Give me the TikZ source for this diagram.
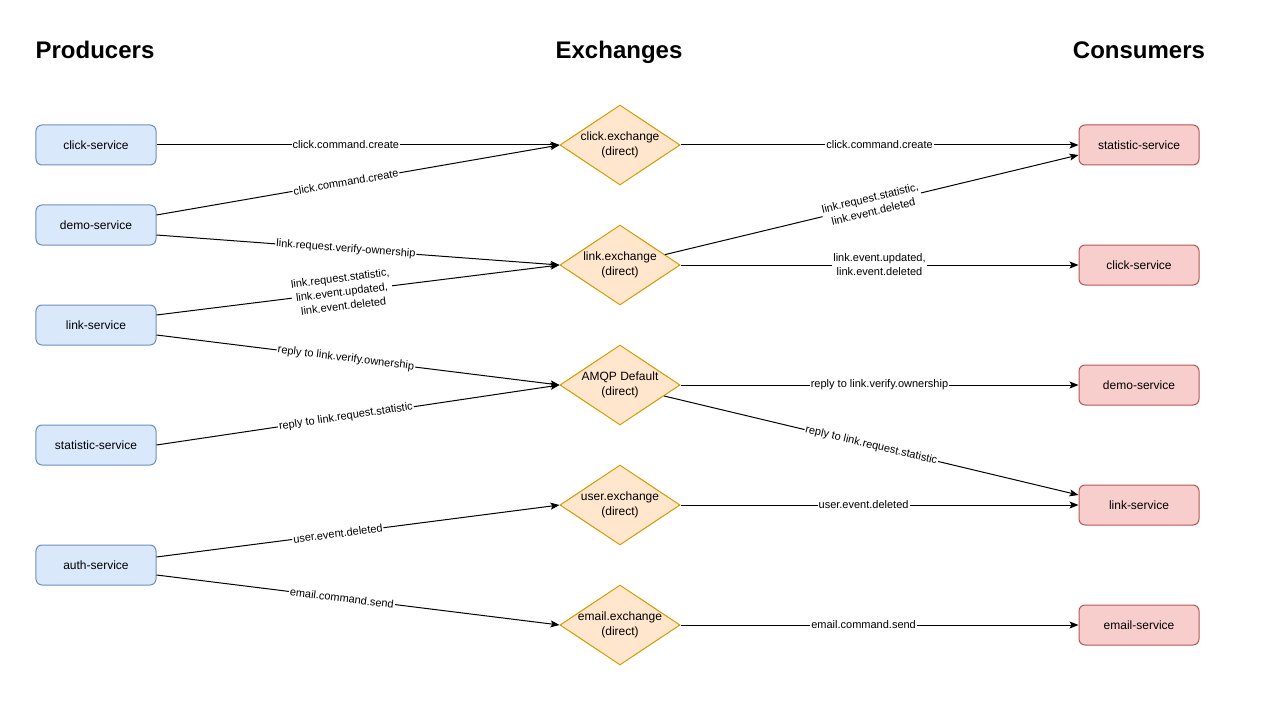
\documentclass[tikz,border=0pt]{standalone}
\usepackage{fontspec}
\setmainfont{Liberation Sans}
\usetikzlibrary{shapes.geometric, arrows, arrows.meta}
\definecolor{prodFill}{RGB}{218,232,252}
\definecolor{prodLine}{RGB}{108,142,191}
\definecolor{exFill}{RGB}{255,230,204}
\definecolor{exLine}{RGB}{215,155,0}
\definecolor{consFill}{RGB}{248,206,204}
\definecolor{consLine}{RGB}{184,84,80}
\tikzstyle{producer} = [rectangle, rounded corners=6bp, minimum width=120bp, minimum height=40bp, text centered, line width=1bp, draw=prodLine, fill=prodFill, font=\fontsize{12bp}{15bp}\selectfont]
\tikzstyle{consumer} = [rectangle, rounded corners=6bp, minimum width=120bp, minimum height=40bp, text centered, line width=1bp, draw=consLine, fill=consFill, font=\fontsize{12bp}{15bp}\selectfont]
\tikzstyle{exchange} = [diamond, aspect=1.5, minimum width=120bp, minimum height=80bp, inner sep=-4bp, align=center, line width=1bp, draw=exLine, fill=exFill, font=\fontsize{12bp}{15bp}\selectfont]
\tikzstyle{title} = [anchor=base, font=\fontsize{24bp}{28bp}\selectfont\bfseries]
\tikzstyle{arrow} = [line width=1bp,->,>={Stealth[length=9bp,width=7bp,inset=2bp]}]
\tikzstyle{msg} = [font=\fontsize{11bp}{14bp}\selectfont, fill=white, inner sep=1bp, align=center]

\begin{document}
\begin{tikzpicture}[x=1bp, y=-1bp]
    \useasboundingbox (0,0) rectangle (1275,701);
    \node (producersTitle) [title] at (95,58.5) {Producers};
    \node (exchangesTitle) [title] at (619,58.5) {Exchanges};
    \node (consumersTitle) [title] at (1139,58.5) {Consumers};

    % producers
    \node (clickSvc) [producer] at (96,145) {click-service};
    \node (demoSvc) [producer] at (96,225) {demo-service};
    \node (linkSvc) [producer] at (96,325) {link-service};
    \node (statSvc) [producer] at (96,445) {statistic-service};
    \node (authSvc) [producer] at (96,565) {auth-service};

    % exchanges
    \node (clickEx) [exchange] at (620,145) {click.exchange\\(direct)};
    \node (linkEx) [exchange] at (620,265) {link.exchange\\(direct)};
    \node (amqpEx) [exchange] at (620,385) {AMQP Default\\(direct)};
    \node (userEx) [exchange] at (620,505) {user.exchange\\(direct)};
    \node (emailEx) [exchange] at (620,625) {email.exchange\\(direct)};

    % consumers
    \node (statCons) [consumer] at (1139,145) {statistic-service};
    \node (clickCons) [consumer] at (1139,265) {click-service};
    \node (demoCons) [consumer] at (1139,385) {demo-service};
    \node (linkCons) [consumer] at (1139,505) {link-service};
    \node (emailCons) [consumer] at (1139,625) {email-service};

    % producers -> exchanges
    \draw [arrow] (clickSvc.east) -- node[msg, pos=0.47] {click.command.create} (clickEx.west);
    \draw [arrow] ([yshift=10bp]demoSvc.east) -- node[msg, sloped, pos=0.47] {click.command.create} (clickEx.west);
    \draw [arrow] ([yshift=-10bp]demoSvc.east) -- node[msg, sloped, pos=0.47] {link.request.verify-ownership} (linkEx.west);
    \draw [arrow] ([yshift=10bp]linkSvc.east) -- node[msg, sloped, pos=0.46] {link.request.statistic,\\link.event.updated,\\link.event.deleted} (linkEx.west);
    \draw [arrow] ([yshift=-10bp]linkSvc.east) -- node[msg, sloped, pos=0.47] {reply to link.verify.ownership} (amqpEx.west);
    \draw [arrow] (statSvc.east) -- node[msg, sloped, pos=0.47] {reply to link.request.statistic} (amqpEx.west);
    \draw [arrow] ([yshift=8bp]authSvc.east) -- node[msg, sloped, pos=0.45] {user.event.deleted} (userEx.west);
    \draw [arrow] ([yshift=-10bp]authSvc.east) -- node[msg, sloped, pos=0.46] {email.command.send} (emailEx.west);

    % exchanges -> consumers
    \draw [arrow] (clickEx.east) -- node[msg] {click.command.create} (statCons.west);
    \draw [arrow] (linkEx.13) -- node[msg, sloped] {link.request.statistic,\\link.event.deleted} ([yshift=-10bp]statCons.west);
    \draw [arrow] (linkEx.east) -- node[msg] {link.event.updated,\\link.event.deleted} (clickCons.west);
    \draw [arrow] (amqpEx.east) -- node[msg] {reply to link.verify.ownership} (demoCons.west);
    \draw [arrow] (amqpEx.-14) -- node[msg, sloped] {reply to link.request.statistic} ([yshift=10bp]linkCons.west);
    \draw [arrow] (userEx.east) -- node[msg, pos=0.46] {user.event.deleted} (linkCons.west);
    \draw [arrow] (emailEx.east) -- node[msg, pos=0.46] {email.command.send} (emailCons.west);
\end{tikzpicture}
\end{document}
